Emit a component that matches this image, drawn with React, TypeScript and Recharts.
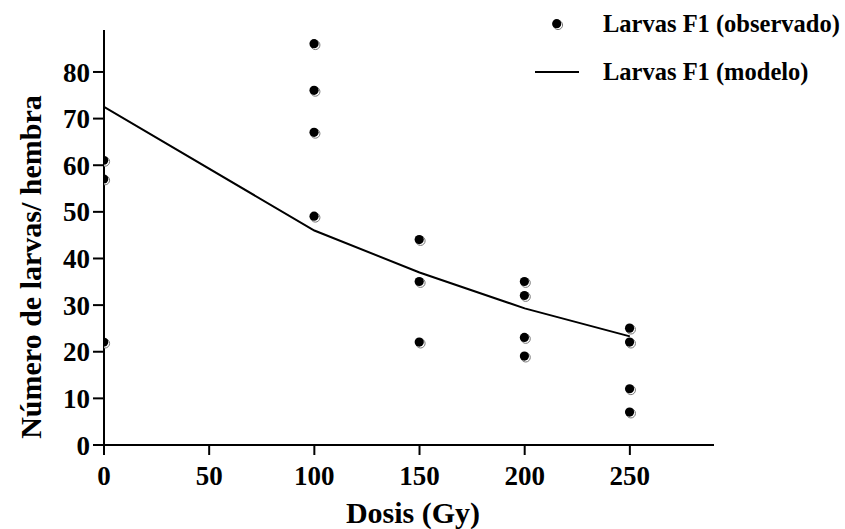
import React from 'react';
import { ComposedChart, XAxis, YAxis, Line, Scatter } from 'recharts';

const modelDoses = [0, 100, 150, 200, 250];
const modelValues = [72.5, 46, 37, 29.3, 23.3];
const observedDoses = [0, 0, 0, 100, 100, 100, 100, 150, 150, 150, 200, 200, 200, 200, 250, 250, 250, 250];
const observedValues = [61, 57, 22, 86, 76, 67, 49, 44, 35, 22, 35, 32, 23, 19, 25, 22, 12, 7];
const xTicks = [0, 50, 100, 150, 200, 250];
const yTicks = [0, 10, 20, 30, 40, 50, 60, 70, 80];
const xTitle = 'Dosis (Gy)';
const yTitle = 'Número de larvas/ hembra';
const legendObserved = 'Larvas F1 (observado)';
const legendModel = 'Larvas F1 (modelo)';

const modelData = modelDoses.map((x, i) => ({ x, y: modelValues[i] }));
const observedData = observedDoses.map((x, i) => ({ x, y: observedValues[i] }));

const FONT = '"Liberation Serif", "Times New Roman", Times, serif';

function Dot(props: any) {
  const { cx, cy } = props;
  if (cx == null || cy == null) return null;
  return (
    <g>
      <circle cx={cx + 1} cy={cy + 1} r={4.6} fill="#fff" stroke="#777" strokeWidth={1} />
      <circle cx={cx - 0.3} cy={cy - 0.3} r={4.6} fill="#000" />
    </g>
  );
}

const tickStyle = { fill: '#000', fontSize: 27, fontWeight: 'bold', fontFamily: FONT };

export default function App() {
  return (
    <div style={{ position: 'absolute', left: 0, top: 0, width: 845, height: 529, background: '#fff' }}>
      <ComposedChart
        width={845}
        height={529}
        margin={{ top: 30, right: 131, left: 44, bottom: 54 }}
      >
        <XAxis
          type="number"
          dataKey="x"
          domain={[0, 290]}
          ticks={xTicks}
          interval={0}
          allowDataOverflow
          height={30}
          tickSize={10}
          tickMargin={11}
          axisLine={{ stroke: '#000', strokeWidth: 2 }}
          tickLine={{ stroke: '#000', strokeWidth: 2 }}
          tick={tickStyle}
        />
        <YAxis
          type="number"
          dataKey="y"
          domain={[0, 89]}
          ticks={yTicks}
          interval={0}
          allowDataOverflow
          width={60}
          tickSize={11}
          tickMargin={3}
          axisLine={{ stroke: '#000', strokeWidth: 2 }}
          tickLine={{ stroke: '#000', strokeWidth: 2 }}
          tick={tickStyle}
        />
        <Line
          data={modelData}
          dataKey="y"
          type="linear"
          stroke="#000"
          strokeWidth={2}
          dot={false}
          activeDot={false}
          isAnimationActive={false}
        />
        <Scatter
          data={observedData}
          dataKey="y"
          shape={(p: any) => <Dot {...p} />}
          isAnimationActive={false}
        />
        <text x={413} y={523} textAnchor="middle" fontFamily={FONT} fontWeight="bold" fontSize={30} fill="#000">
          {xTitle}
        </text>
        <text
          x={0}
          y={0}
          transform="translate(41,267) rotate(-90)"
          textAnchor="middle"
          fontFamily={FONT}
          fontWeight="bold"
          fontSize={30}
          fill="#000"
        >
          {yTitle}
        </text>
        <Dot cx={557} cy={24} />
        <line x1={535} x2={579} y1={72} y2={72} stroke="#000" strokeWidth={2} />
        <text x={603} y={32} fontFamily={FONT} fontWeight="bold" fontSize={24.5} fill="#000">
          {legendObserved}
        </text>
        <text x={603} y={80} fontFamily={FONT} fontWeight="bold" fontSize={24.5} fill="#000">
          {legendModel}
        </text>
      </ComposedChart>
    </div>
  );
}
